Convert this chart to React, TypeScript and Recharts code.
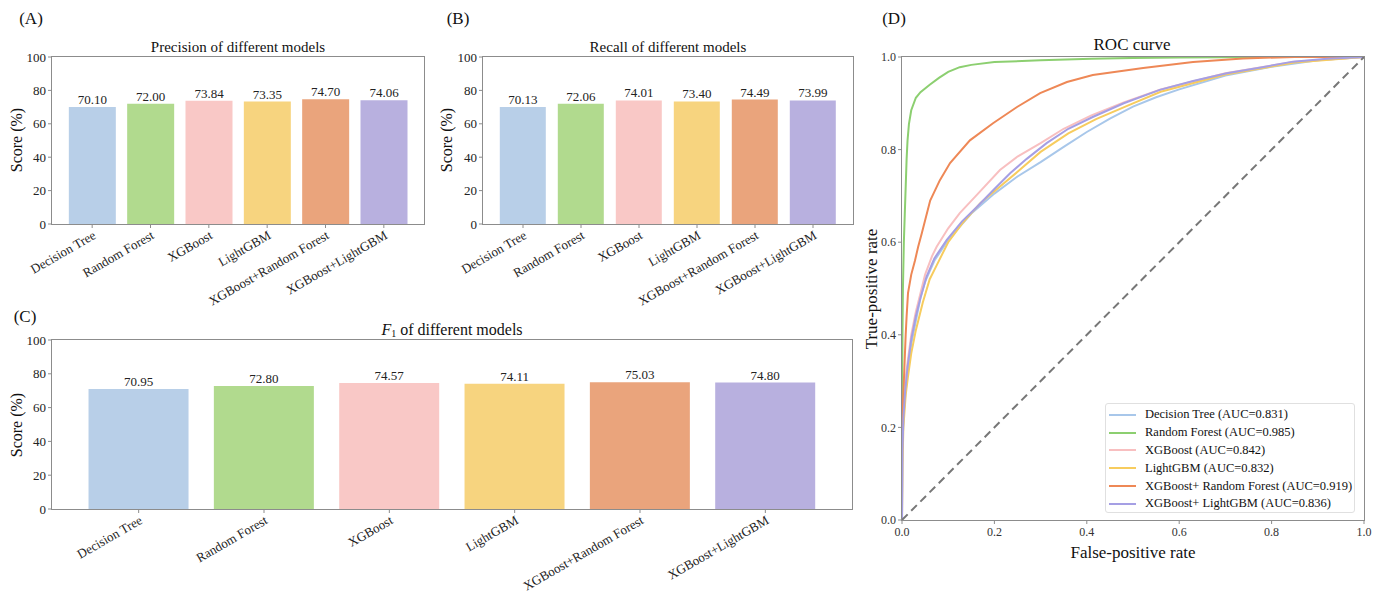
import React from "react"
import {
    BarChart,
    Bar,
    XAxis,
    YAxis,
    Cell,
    LabelList,
    LineChart,
    Line,
} from "recharts"

const SERIF = "'Liberation Serif', 'Times New Roman', serif"
const AXIS_GRAY = "#8c8c8c"
const TEXT = "#222"

// bar panels
const models = [
    "Decision Tree",
    "Random Forest",
    "XGBoost",
    "LightGBM",
    "XGBoost+Random Forest",
    "XGBoost+LightGBM",
]
const precision = [70.1, 72.0, 73.84, 73.35, 74.7, 74.06]
const recall = [70.13, 72.06, 74.01, 73.4, 74.49, 73.99]
const f1 = [70.95, 72.8, 74.57, 74.11, 75.03, 74.8]
const scoreTicks = [0, 20, 40, 60, 80, 100]
const barColors = ["#b8cfe8", "#b1da8e", "#f9c8c6", "#f7d47f", "#eaa47c", "#b8b0df"]

// roc panel, [fpr, tpr]
const rocLabels = [
    "Decision Tree (AUC=0.831)",
    "Random Forest (AUC=0.985)",
    "XGBoost (AUC=0.842)",
    "LightGBM (AUC=0.832)",
    "XGBoost+ Random Forest (AUC=0.919)",
    "XGBoost+ LightGBM (AUC=0.836)",
]
const rocColors = ["#a8c7ea", "#8ccf70", "#f8bfc0", "#f7cc5e", "#ee8856", "#a59fe4"]
const rocDecisionTree = [
    [0, 0], [0.001, 0.15], [0.003, 0.22], [0.008, 0.28], [0.013, 0.33], [0.02, 0.38],
    [0.03, 0.43], [0.04, 0.48], [0.05, 0.515], [0.07, 0.56], [0.1, 0.605], [0.15, 0.662],
    [0.2, 0.705], [0.25, 0.742], [0.3, 0.773], [0.35, 0.806], [0.4, 0.838], [0.45, 0.867],
    [0.5, 0.893], [0.55, 0.913], [0.6, 0.93], [0.7, 0.96], [0.8, 0.979], [0.9, 0.993], [1, 1],
]
const rocRandomForest = [
    [0, 0], [0, 0.2], [0.001, 0.4], [0.002, 0.5], [0.004, 0.6], [0.006, 0.66], [0.008, 0.72],
    [0.01, 0.78], [0.012, 0.82], [0.015, 0.855], [0.02, 0.885], [0.03, 0.912], [0.04, 0.924],
    [0.06, 0.94], [0.08, 0.955], [0.1, 0.968], [0.125, 0.978], [0.15, 0.983], [0.2, 0.989],
    [0.3, 0.993], [0.41, 0.996], [0.5, 0.998], [0.6, 0.999], [0.8, 1], [1, 1],
]
const rocXGBoost = [
    [0, 0], [0.001, 0.18], [0.003, 0.24], [0.007, 0.3], [0.012, 0.34], [0.02, 0.4],
    [0.03, 0.45], [0.04, 0.49], [0.05, 0.53], [0.065, 0.57], [0.075, 0.59], [0.1, 0.63],
    [0.125, 0.663], [0.16, 0.7], [0.212, 0.756], [0.25, 0.785], [0.3, 0.814], [0.35, 0.845],
    [0.41, 0.874], [0.48, 0.902], [0.56, 0.93], [0.7, 0.965], [0.85, 0.99], [1, 1],
]
const rocLightGBM = [
    [0, 0], [0.001, 0.12], [0.003, 0.2], [0.008, 0.27], [0.013, 0.31], [0.02, 0.36],
    [0.03, 0.41], [0.045, 0.47], [0.06, 0.52], [0.075, 0.55], [0.1, 0.6], [0.13, 0.64],
    [0.17, 0.685], [0.2, 0.71], [0.25, 0.752], [0.3, 0.795], [0.36, 0.835], [0.42, 0.866],
    [0.5, 0.9], [0.56, 0.925], [0.7, 0.962], [0.85, 0.988], [1, 1],
]
const rocXGBRF = [
    [0, 0], [0, 0.15], [0.002, 0.25], [0.004, 0.3], [0.006, 0.35], [0.008, 0.4], [0.01, 0.44],
    [0.013, 0.49], [0.02, 0.53], [0.028, 0.56], [0.035, 0.59], [0.043, 0.62], [0.061, 0.69],
    [0.082, 0.734], [0.104, 0.771], [0.147, 0.82], [0.197, 0.857], [0.249, 0.892],
    [0.299, 0.922], [0.357, 0.946], [0.413, 0.961], [0.522, 0.976], [0.63, 0.989],
    [0.738, 0.997], [0.85, 1], [1, 1],
]
const rocXGBLGBM = [
    [0, 0], [0.001, 0.15], [0.003, 0.22], [0.007, 0.28], [0.012, 0.33], [0.02, 0.39],
    [0.03, 0.44], [0.04, 0.48], [0.053, 0.525], [0.07, 0.565], [0.097, 0.605], [0.13, 0.645],
    [0.162, 0.676], [0.2, 0.715], [0.234, 0.749], [0.27, 0.78], [0.313, 0.814], [0.36, 0.845],
    [0.414, 0.871], [0.48, 0.9], [0.558, 0.929], [0.63, 0.948], [0.703, 0.965], [0.78, 0.978],
    [0.846, 0.99], [0.92, 0.996], [1, 1],
]
const rocCurves = [rocDecisionTree, rocRandomForest, rocXGBoost, rocLightGBM, rocXGBRF, rocXGBLGBM]
const chanceLine = [[0, 0], [1, 1]]
const rateTicks = [0, 0.2, 0.4, 0.6, 0.8, 1.0]

const toPoints = (arr: number[][]) => arr.map(([fpr, tpr]) => ({ fpr, tpr }))

const RotatedTick = (props: any) => {
    const { x, y, payload } = props
    return (
        <text
            x={x}
            y={y}
            dy={9}
            textAnchor="end"
            transform={`rotate(-30 ${x} ${y})`}
            fontSize={13}
            fill={TEXT}
            fontFamily={SERIF}
        >
            {payload.value}
        </text>
    )
}

const tickStyle = { fontSize: 13, fill: TEXT, fontFamily: SERIF }
const rocTickStyle = { fontSize: 12, fill: "#333", fontFamily: SERIF }

function Overlay({ x, y, children, size = 15, rotate = false, style = {} }: any) {
    return (
        <div
            style={{
                position: "absolute",
                left: x,
                top: y,
                transform: `translate(-50%, -50%)${rotate ? " rotate(-90deg)" : ""}`,
                fontFamily: SERIF,
                fontSize: size,
                color: "#111",
                whiteSpace: "nowrap",
                lineHeight: 1,
                ...style,
            }}
        >
            {children}
        </div>
    )
}

// matplotlib-style box around the plot area
function Frame({ left, top, width, height }: any) {
    return (
        <div
            style={{
                position: "absolute",
                left: left - 1,
                top: top - 1,
                width: width + 2,
                height: height + 2,
                boxSizing: "border-box",
                border: `1px solid ${AXIS_GRAY}`,
                pointerEvents: "none",
            }}
        />
    )
}

interface BarPanelProps {
    values: number[]
    left: number
    top: number
    width: number
    height: number
    plotTop: number
    yAxisWidth: number
    xAxisHeight: number
    marginRight: number
    pad: number
}

function BarPanel({ values, left, top, width, height, plotTop, yAxisWidth, xAxisHeight, marginRight, pad }: BarPanelProps) {
    const data = models.map((name, i) => ({ name, value: values[i] }))
    return (
        <div style={{ position: "absolute", left, top }}>
            <BarChart
                width={width}
                height={height}
                data={data}
                margin={{ top: plotTop, right: marginRight, left: 0, bottom: 0 }}
                barCategoryGap="10%"
            >
                <XAxis
                    dataKey="name"
                    interval={0}
                    height={xAxisHeight}
                    padding={{ left: pad, right: pad }}
                    stroke={AXIS_GRAY}
                    axisLine={false}
                    tickSize={4}
                    tickMargin={2}
                    tick={<RotatedTick />}
                />
                <YAxis
                    domain={[0, 100]}
                    ticks={scoreTicks}
                    width={yAxisWidth}
                    stroke={AXIS_GRAY}
                    axisLine={false}
                    tickSize={4}
                    tickMargin={2}
                    tick={tickStyle}
                />
                <Bar dataKey="value" isAnimationActive={false}>
                    {data.map((d, i) => (
                        <Cell key={`cell-${i}`} fill={barColors[i]} />
                    ))}
                    <LabelList
                        dataKey="value"
                        position="top"
                        offset={3}
                        formatter={(v: any) => Number(v).toFixed(2)}
                        style={{ fontSize: 13, fill: TEXT, fontFamily: SERIF }}
                    />
                </Bar>
            </BarChart>
            <Frame
                left={yAxisWidth}
                top={plotTop}
                width={width - yAxisWidth - marginRight}
                height={height - plotTop - xAxisHeight}
            />
        </div>
    )
}

function RocPanel() {
    return (
        <div style={{ position: "absolute", left: 860, top: 0 }}>
            <LineChart width={529} height={594} margin={{ top: 57, right: 25, left: 0, bottom: 0 }}>
                <XAxis
                    type="number"
                    dataKey="fpr"
                    domain={[0, 1]}
                    ticks={rateTicks}
                    tickFormatter={(v) => Number(v).toFixed(1)}
                    height={74}
                    stroke={AXIS_GRAY}
                    axisLine={false}
                    tickSize={4}
                    tickMargin={3}
                    tick={rocTickStyle}
                    allowDataOverflow
                />
                <YAxis
                    type="number"
                    domain={[0, 1]}
                    ticks={rateTicks}
                    tickFormatter={(v) => Number(v).toFixed(1)}
                    width={42}
                    stroke={AXIS_GRAY}
                    axisLine={false}
                    tickSize={4}
                    tickMargin={2}
                    tick={rocTickStyle}
                    allowDataOverflow
                />
                {rocCurves.map((curve, i) => (
                    <Line
                        key={rocLabels[i]}
                        data={toPoints(curve)}
                        dataKey="tpr"
                        type="linear"
                        stroke={rocColors[i]}
                        strokeWidth={2}
                        dot={false}
                        isAnimationActive={false}
                    />
                ))}
                <Line
                    data={toPoints(chanceLine)}
                    dataKey="tpr"
                    type="linear"
                    stroke="#777"
                    strokeWidth={2}
                    strokeDasharray="8 5"
                    dot={false}
                    isAnimationActive={false}
                />
            </LineChart>
            <Frame left={42} top={57} width={462} height={463} />
        </div>
    )
}

export default function App() {
    return (
        <div style={{ position: "absolute", left: 0, top: 0, width: 1389, height: 594, background: "#fff", overflow: "hidden" }}>
            <BarPanel values={precision} left={0} top={0} width={434} height={320} plotTop={57} yAxisWidth={52} xAxisHeight={96} marginRight={10} pad={11} />
            <BarPanel values={recall} left={420} top={0} width={443} height={320} plotTop={57} yAxisWidth={63} xAxisHeight={96} marginRight={10} pad={11} />
            <BarPanel values={f1} left={0} top={300} width={862} height={294} plotTop={40} yAxisWidth={52} xAxisHeight={85} marginRight={10} pad={24} />
            <RocPanel />

            <Overlay x={31} y={18} size={17}>(A)</Overlay>
            <Overlay x={458} y={18} size={17}>(B)</Overlay>
            <Overlay x={25} y={316} size={17}>(C)</Overlay>
            <Overlay x={894} y={18} size={17}>(D)</Overlay>

            <Overlay x={238} y={47}>Precision of different models</Overlay>
            <Overlay x={668} y={47}>Recall of different models</Overlay>
            <Overlay x={452} y={330} size={16}>
                <i>F</i>
                <span style={{ fontSize: 10, verticalAlign: "-2px" }}>1</span> of different models
            </Overlay>
            <Overlay x={1132} y={44} size={17}>ROC curve</Overlay>

            <Overlay x={17} y={140} size={16} rotate>Score (%)</Overlay>
            <Overlay x={447} y={140} size={16} rotate>Score (%)</Overlay>
            <Overlay x={17} y={425} size={16} rotate>Score (%)</Overlay>
            <Overlay x={871} y={289} size={17} rotate>True-positive rate</Overlay>
            <Overlay x={1133} y={552} size={17}>False-positive rate</Overlay>

            <div
                style={{
                    position: "absolute",
                    left: 1105,
                    top: 403,
                    width: 250,
                    height: 110,
                    boxSizing: "border-box",
                    border: "1px solid #e0e0e0",
                    borderRadius: 3,
                    background: "rgba(255,255,255,0.85)",
                    padding: "2px 0 0 3px",
                    fontFamily: SERIF,
                    fontSize: 12.5,
                    color: "#111",
                }}
            >
                {rocLabels.map((label, i) => (
                    <div key={label} style={{ display: "flex", alignItems: "center", height: 17.8 }}>
                        <span style={{ display: "inline-block", flexShrink: 0, width: 27, height: 2, background: rocColors[i], marginRight: 9 }} />
                        <span style={{ whiteSpace: "nowrap" }}>{label}</span>
                    </div>
                ))}
            </div>
        </div>
    )
}
